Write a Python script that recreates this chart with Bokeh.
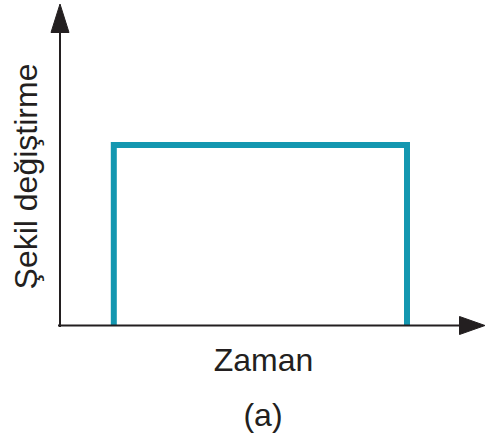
from bokeh.plotting import figure
from bokeh.models import Range1d, ColumnDataSource
from bokeh.core.properties import value
from bokeh.embed import file_html
from bokeh.resources import INLINE

# ---- data (schematic: constant strain between load on/off times) ----
step_times = [1.0, 1.0, 6.45, 6.45]
step_strain = [0.0, 1.0, 1.0, 0.0]
x_label = "Zaman"
y_label = "Şekil değiştirme"
caption = "(a)"

# ---- layout (pixel anchors measured on the picture) ----
W, H = 485, 438
X0_PX, Y0_PX = 59.5, 325.0      # axis origin in the picture
PX_PER_X = 53.8
PX_PER_Y = 180.5

def dx(px):
    return (px - X0_PX) / PX_PER_X

def dy(py):
    return (Y0_PX - py) / PX_PER_Y

p = figure(width=W, height=H, output_backend="svg", toolbar_location=None,
           x_range=Range1d(dx(0), dx(W)),
           y_range=Range1d(dy(H), dy(0)),
           x_axis_location=None, y_axis_location=None,
           min_border=0)
p.grid.visible = False
p.outline_line_color = None
p.background_fill_color = "white"
p.border_fill_color = "white"

TEAL = "#1497b0"
INK = "#231f20"

src = ColumnDataSource(dict(t=step_times, s=step_strain))
p.line("t", "s", source=src, line_color=TEAL, line_width=6, line_join="miter")

# axes
p.line([dx(59.5), dx(59.5)], [dy(326.5), dy(30)], line_color=INK, line_width=2)
p.line([dx(57.5), dx(461)], [dy(325), dy(325)], line_color=INK, line_width=2)
p.patch([dx(59.5), dx(50.5), dx(68.5)], [dy(3.5), dy(32), dy(32)],
        fill_color=INK, line_color=INK, line_width=1)
p.patch([dx(484.5), dx(459), dx(459)], [dy(325), dy(316), dy(334)],
        fill_color=INK, line_color=INK, line_width=1)

font = value("Liberation Sans")
p.text(x=[dx(263)], y=[dy(359)], text=[x_label], text_font=font,
       text_font_size="32px", text_color=INK, text_align="center",
       text_baseline="alphabetic")
p.text(x=[dx(262.5)], y=[dy(414)], text=[caption], text_font=font,
       text_font_size="32px", text_color=INK, text_align="center",
       text_baseline="alphabetic")
p.text(x=[dx(25)], y=[dy(176)], text=[y_label], text_font=font,
       text_font_size="32px", text_color=INK, text_align="center",
       text_baseline="alphabetic", angle=1.5707963267948966)

open("out.html", "w").write(file_html(p, INLINE))
